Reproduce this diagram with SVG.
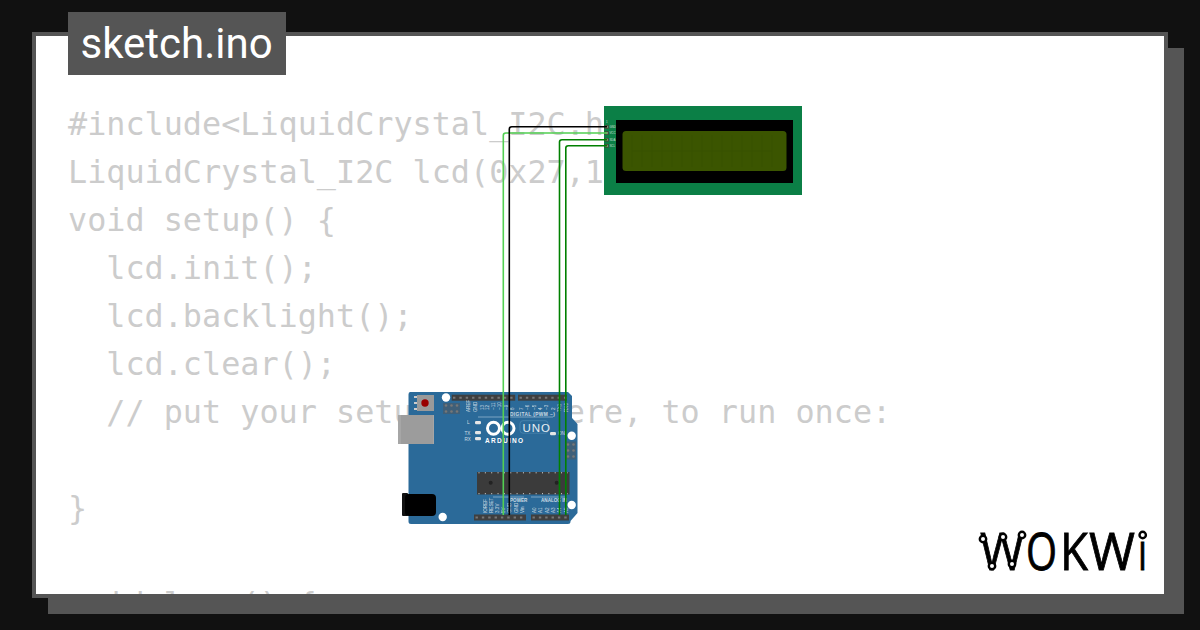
<svg xmlns="http://www.w3.org/2000/svg" width="1200" height="630" viewBox="0 0 1200 630">
<defs>
<style>
.code{font-family:"DejaVu Sans Mono","Liberation Mono",monospace;font-size:31.8px;fill:#ccc;white-space:pre}
.tiny{font-family:"Liberation Sans",Arial,sans-serif;font-size:4.6px;fill:#fff;opacity:.75}
.hdr{fill:#3f3f3f}
.pin{stroke:#777;stroke-width:2;stroke-dasharray:2.4 3.95;fill:none}
.hole{fill:#fff}
.wire{fill:none;stroke-width:1.6;stroke-linejoin:round}
.dot{fill:#777}
.lcdpin{fill:#7a8a70;stroke:#3a3a2a;stroke-width:.6}
.ring{fill:#fff;stroke:#000;stroke-width:2.4}
.led{fill:#e6e6e6}
.cell{stroke:#375000;stroke-width:.6;fill:none}
</style>
</defs>
<rect width="1200" height="630" fill="#111"/>
<rect x="48" y="48" width="1136" height="566" fill="#555"/>
<rect x="34" y="34" width="1132" height="562" fill="#fff"/>
<g id="code">
<text class="code" x="68" y="135">#include&lt;LiquidCrystal_I2C.h&gt;</text>
<text class="code" x="68" y="183">LiquidCrystal_I2C lcd(0x27,16,2);</text>
<text class="code" x="68" y="231">void setup() {</text>
<text class="code" x="68" y="279">  lcd.init();</text>
<text class="code" x="68" y="327">  lcd.backlight();</text>
<text class="code" x="68" y="375">  lcd.clear();</text>
<text class="code" x="68" y="423">  // put your setup code here, to run once:</text>
<text class="code" x="68" y="519">}</text>
<text class="code" x="68" y="615">void loop() {</text>
</g>
<rect x="34" y="34" width="1132" height="562" fill="none" stroke="#555" stroke-width="4"/>
<rect x="48" y="598" width="1136" height="16" fill="#555"/>
<rect x="0" y="614" width="1200" height="16" fill="#111"/>
<g id="title">
<rect x="68" y="12" width="218" height="63" fill="#555"/>
<text x="80.500" y="57.500" font-family="Roboto,sans-serif" font-size="42" fill="#fff">sketch.ino</text>
</g>
<g id="lcd">
<rect x="604" y="106" width="198" height="89" fill="#0b7f46"/>
<rect x="616" y="120" width="177" height="63" fill="#000"/>
<rect x="622.500" y="131" width="164" height="40" rx="3.500" fill="#3b5500"/>
<path class="cell" d="M632 135V167M642 135V167M652 135V167M662 135V167M672 135V167M682 135V167M692 135V167M702 135V167M712 135V167M722 135V167M732 135V167M742 135V167M752 135V167M762 135V167M772 135V167M632 151H772"/>
<rect class="lcdpin" x="605" y="125.500" width="3.500" height="3"/>
<rect class="lcdpin" x="605" y="131.700" width="3.500" height="3"/>
<rect class="lcdpin" x="605" y="138.200" width="3.500" height="3"/>
<rect class="lcdpin" x="605" y="144.300" width="3.500" height="3"/>
<text class="tiny" style="font-size:2.800px" x="606" y="122.500">1</text>
<text class="tiny" style="font-size:2.800px" x="609.500" y="128">GND</text>
<text class="tiny" style="font-size:2.800px" x="609.500" y="134.200">VCC</text>
<text class="tiny" style="font-size:2.800px" x="609.500" y="140.700">SDA</text>
<text class="tiny" style="font-size:2.800px" x="609.500" y="146.800">SCL</text>
</g>
<g id="arduino">
<path d="M410 392H568L572 396V418L577.500 424V513L570.500 521V522Q570.500 524 568 524H411Q408.500 524 408.500 521.500V394.500Q408.500 392 410 392Z" fill="#2b6a99"/>
<circle class="hole" cx="446" cy="397.500" r="4.200"/>
<circle class="hole" cx="442.700" cy="517" r="4.200"/>
<circle class="hole" cx="571.700" cy="435.700" r="4.200"/>
<circle class="hole" cx="571.700" cy="505" r="4.200"/>
<rect x="398" y="415" width="36" height="29" fill="#a6a6a6"/>
<rect x="401" y="415" width="32" height="29" fill="#9c9c9c"/>
<rect x="402" y="493" width="6" height="23" rx="1" fill="#111"/>
<rect x="405" y="494" width="31" height="22" rx="4" fill="#000"/>
<rect x="414" y="396" width="3" height="2" fill="#ccc"/><rect x="414" y="402" width="3" height="2" fill="#ccc"/><rect x="414" y="408" width="3" height="2" fill="#ccc"/>
<rect x="417" y="395" width="17" height="16" fill="#9a9a9a"/>
<circle cx="425" cy="403" r="3.700" fill="#990000"/>
<rect x="443" y="403" width="17" height="11" fill="#3f5f78"/>
<circle class="dot" cx="446" cy="405.500" r="1.300"/><circle class="dot" cx="451.500" cy="405.500" r="1.300"/><circle class="dot" cx="457" cy="405.500" r="1.300"/>
<circle class="dot" cx="446" cy="411.500" r="1.300"/><circle class="dot" cx="451.500" cy="411.500" r="1.300"/><circle class="dot" cx="457" cy="411.500" r="1.300"/>
<rect x="565.500" y="441.500" width="10.500" height="18" fill="#3f5f78"/>
<circle class="dot" cx="568" cy="444.500" r="1.300"/><circle class="dot" cx="573.500" cy="444.500" r="1.300"/>
<circle class="dot" cx="568" cy="450.500" r="1.300"/><circle class="dot" cx="573.500" cy="450.500" r="1.300"/>
<circle class="dot" cx="568" cy="456.500" r="1.300"/><circle class="dot" cx="573.500" cy="456.500" r="1.300"/>
<rect class="hdr" x="451.700" y="394.700" width="63.500" height="6"/>
<line class="pin" x1="453" y1="397.700" x2="515" y2="397.700"/>
<rect class="hdr" x="518" y="394.700" width="49" height="6"/>
<line class="pin" x1="519.500" y1="397.700" x2="567" y2="397.700"/>
<rect class="hdr" x="474" y="514.500" width="52" height="6"/>
<line class="pin" x1="475.500" y1="517.500" x2="526" y2="517.500"/>
<rect class="hdr" x="531" y="514.500" width="38" height="6"/>
<line class="pin" x1="532.500" y1="517.500" x2="569" y2="517.500"/>
<rect x="477" y="472" width="92.500" height="22.500" fill="#3b3b3b"/>
<circle cx="490.700" cy="482.700" r="2" fill="#222"/><circle cx="556.700" cy="482.700" r="2" fill="#222"/>
<line x1="478.500" y1="472.800" x2="568" y2="472.800" stroke="#ddd" stroke-width="1" stroke-dasharray="1 5.350"/>
<line x1="478.500" y1="493.700" x2="568" y2="493.700" stroke="#ddd" stroke-width="1" stroke-dasharray="1 5.350"/>
<g fill="none" stroke="#fff" stroke-width="3"><circle cx="493.500" cy="428.300" r="6"/><circle cx="508" cy="428.300" r="6"/></g>
<rect x="520" y="420.700" width="28" height="12.500" rx="3" fill="none" stroke="#4b86b0" stroke-width=".8"/>
<text x="522.500" y="432" font-family="Liberation Sans,sans-serif" font-size="11.500" letter-spacing="1" fill="#e8eef3">UNO</text>
<text x="485" y="442.500" font-family="Liberation Sans,sans-serif" font-size="6.500" font-weight="700" letter-spacing="1.300" fill="#fff">ARDUINO</text>
<rect class="led" x="475" y="421" width="6" height="3.200" rx="1.200"/>
<rect class="led" x="475" y="431" width="6" height="3.200" rx="1.200"/>
<rect class="led" x="475" y="437" width="6" height="3.200" rx="1.200"/>
<rect class="led" x="550" y="432" width="6" height="3.200" rx="1.200"/>
<text class="tiny" x="467" y="424">L</text>
<text class="tiny" x="464.500" y="434.500">TX</text>
<text class="tiny" x="464.500" y="441">RX</text>
<text class="tiny" x="558" y="435">ON</text>
<text class="tiny" x="510" y="415.500" style="font-size:4.8px;font-weight:700;letter-spacing:.4px">DIGITAL (PWM ~)</text>
<line x1="478" y1="417" x2="553" y2="417" stroke="#cfe0ec" stroke-width=".5"/>
<line x1="493" y1="497" x2="524" y2="497" stroke="#cfe0ec" stroke-width=".5"/>
<line x1="531" y1="497" x2="565" y2="497" stroke="#cfe0ec" stroke-width=".5"/>
<text class="tiny" x="510" y="502" style="font-weight:700">POWER</text>
<text class="tiny" x="541" y="502" style="font-weight:700">ANALOG IN</text>
<g id="top-labels">
<text class="tiny" transform="translate(470 412) rotate(-90)">AREF</text>
<text class="tiny" transform="translate(477 412) rotate(-90)">GND</text>
<text class="tiny" transform="translate(483.500 410) rotate(-90)">13</text>
<text class="tiny" transform="translate(489 410) rotate(-90)">12</text>
<text class="tiny" transform="translate(495 410) rotate(-90)">~11</text>
<text class="tiny" transform="translate(501 410) rotate(-90)">~10</text>
<text class="tiny" transform="translate(508 410) rotate(-90)">~9</text>
<text class="tiny" transform="translate(514 410) rotate(-90)">8</text>
<text class="tiny" transform="translate(523 410) rotate(-90)">7</text>
<text class="tiny" transform="translate(529 410) rotate(-90)">~6</text>
<text class="tiny" transform="translate(536 410) rotate(-90)">~5</text>
<text class="tiny" transform="translate(542 410) rotate(-90)">4</text>
<text class="tiny" transform="translate(548 410) rotate(-90)">~3</text>
<text class="tiny" transform="translate(555 410) rotate(-90)">2</text>
<text class="tiny" transform="translate(561 412) rotate(-90)">TX1</text>
<text class="tiny" transform="translate(567.500 412) rotate(-90)">RX0</text>
</g>
<g id="bottom-labels">
<text class="tiny" transform="translate(487 513) rotate(-90)">IOREF</text>
<text class="tiny" transform="translate(493 513) rotate(-90)">RESET</text>
<text class="tiny" transform="translate(499 513) rotate(-90)">3.3V</text>
<text class="tiny" transform="translate(505 513) rotate(-90)">5V</text>
<text class="tiny" transform="translate(511 513) rotate(-90)">GND</text>
<text class="tiny" transform="translate(518 513) rotate(-90)">GND</text>
<text class="tiny" transform="translate(524 513) rotate(-90)">Vin</text>
<text class="tiny" transform="translate(536 513) rotate(-90)">A0</text>
<text class="tiny" transform="translate(542.300 513) rotate(-90)">A1</text>
<text class="tiny" transform="translate(548.700 513) rotate(-90)">A2</text>
<text class="tiny" transform="translate(554.700 513) rotate(-90)">A3</text>
<text class="tiny" transform="translate(561 513) rotate(-90)">A4</text>
<text class="tiny" transform="translate(567.500 513) rotate(-90)">A5</text>
</g>
</g>
<g id="connectors">
<path class="wire" stroke="#52cf52" d="M503.300 515V135.500Q503.300 133 505.800 133H607"/>
<path class="wire" stroke="#000" d="M509.300 515V129Q509.300 126.700 511.800 126.700H607"/>
<path class="wire" stroke="#008000" d="M559.500 515V142Q559.500 139.700 562 139.700H607"/>
<path class="wire" stroke="#008000" d="M565.800 515V148Q565.800 145.700 568.300 145.700H607"/>
</g>
<g id="wokwi-logo">
<text y="570" font-family="Open Sans,sans-serif" font-size="51" fill="#000" stroke="#000" stroke-width=".8"><tspan x="980" textLength="44" lengthAdjust="spacingAndGlyphs">W</tspan><tspan x="1026" textLength="31" lengthAdjust="spacingAndGlyphs">O</tspan><tspan x="1060" textLength="28" lengthAdjust="spacingAndGlyphs">K</tspan><tspan x="1089" textLength="46" lengthAdjust="spacingAndGlyphs">W</tspan><tspan x="1138" textLength="9" lengthAdjust="spacingAndGlyphs">i</tspan></text>
<circle class="ring" cx="983" cy="539" r="3.200"/>
<circle class="ring" cx="1003" cy="537" r="3.200"/>
<circle class="ring" cx="1022" cy="535" r="3.200"/>
<circle class="ring" cx="992" cy="566" r="3.200"/>
<circle class="ring" cx="1012" cy="564" r="3.200"/>
<circle class="ring" cx="1142.700" cy="535" r="3.200"/>
</g>
</svg>
